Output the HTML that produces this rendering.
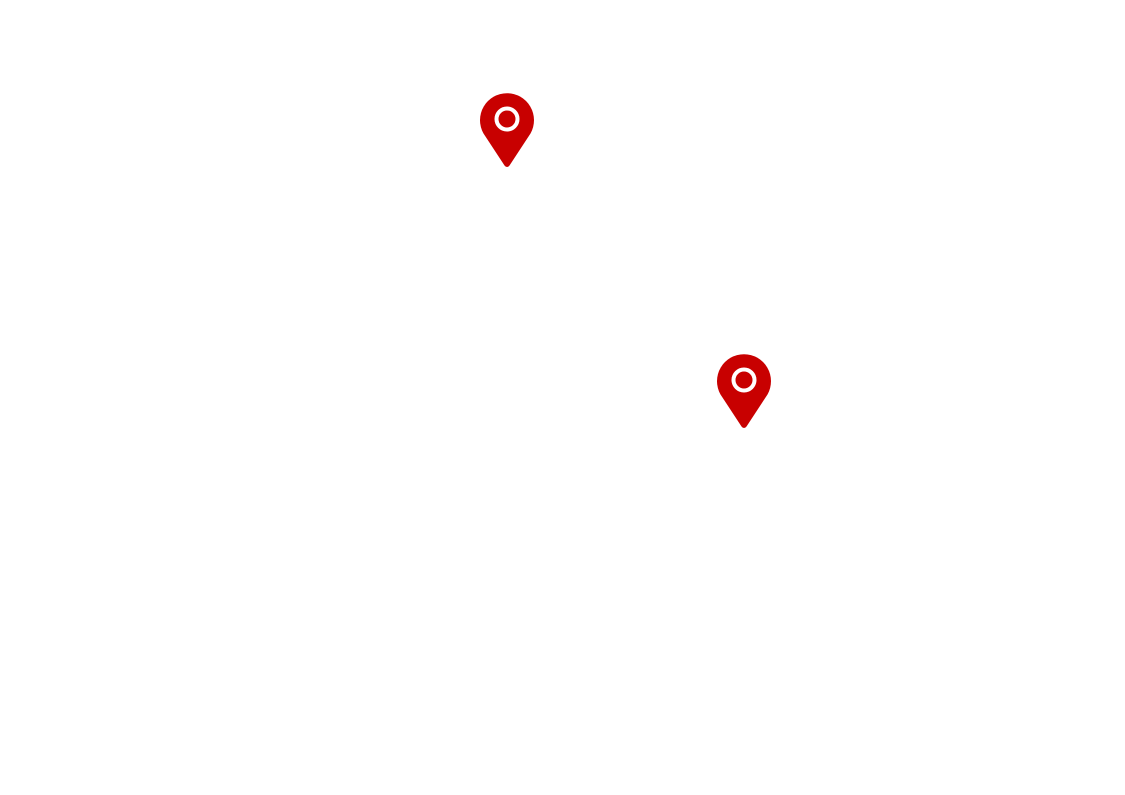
<!DOCTYPE html>
<html><head><style>html,body{margin:0;padding:0;background:#fff;}svg{display:block}</style></head>
<body>
<svg width="1125" height="795" viewBox="0 0 1125 795" xmlns="http://www.w3.org/2000/svg">
<defs>
<g id="pin">
<path d="M0,47 Q-1.5,47 -2.5,45.5 L-23.5,13.5 A27,27 0 1 1 23.5,13.5 L2.5,45.5 Q1.5,47 0,47 Z" fill="#c80000"/>
<circle cx="0" cy="-1" r="10.5" fill="none" stroke="#fff" stroke-width="4"/>
</g>
</defs>
<use href="#pin" x="507" y="120"/>
<use href="#pin" x="744" y="381"/>
</svg>
</body></html>
